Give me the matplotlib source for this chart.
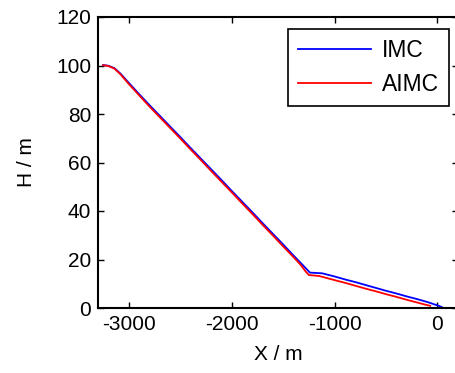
import numpy as np
import matplotlib.pyplot as plt

plt.rcParams['font.family'] = ['Liberation Sans', 'DejaVu Sans']
plt.rcParams['axes.unicode_minus'] = False

# IMC trajectory (blue)
x_imc = [-3250, -3200, -3140, -3080, -3010, -2900, -2800, -2700, -2600, -2500,
         -2400, -2300, -2200, -2100, -2000, -1900, -1800, -1700, -1600, -1500,
         -1400, -1300, -1240, -1120, -1000, -900, -800, -700, -600, -500,
         -400, -300, -200, -100, -30, 20, 50]
h_imc = [100.2, 99.9, 98.9, 96.6, 93.3, 88.2, 83.7, 79.3, 74.9, 70.5,
         66.0, 61.6, 57.2, 52.8, 48.3, 43.9, 39.5, 35.0, 30.6, 26.2,
         21.7, 17.3, 14.6, 14.3, 13.0, 11.8, 10.7, 9.5, 8.3, 7.1,
         6.0, 4.8, 3.7, 2.5, 1.5, 0.8, 0.2]

# AIMC trajectory (red)
x_aimc = [-3250, -3200, -3140, -3080, -3010, -2900, -2800, -2700, -2600, -2500,
          -2400, -2300, -2200, -2100, -2000, -1900, -1800, -1700, -1600, -1500,
          -1400, -1330, -1280, -1250, -1150, -1000, -900, -800, -700, -600,
          -500, -400, -300, -200, -120, -70]
h_aimc = [100.1, 99.8, 98.7, 96.3, 92.8, 87.7, 83.1, 78.7, 74.3, 69.9,
          65.4, 61.0, 56.5, 52.1, 47.7, 43.2, 38.8, 34.3, 29.9, 25.4,
          21.0, 17.8, 15.0, 13.6, 13.2, 11.5, 10.4, 9.2, 8.0, 6.9,
          5.7, 4.6, 3.4, 2.3, 1.4, 0.9]

fig = plt.figure(figsize=(4.55, 3.73), dpi=100)
ax = fig.add_axes([98 / 455, 65 / 373, 360 / 455, 291 / 373])

ax.plot(x_imc, h_imc, color='#0000ff', lw=1.3, label='IMC')
ax.plot(x_aimc, h_aimc, color='#ff0000', lw=1.3, label='AIMC')

ax.set_xlim(-3300, 200)
ax.set_ylim(0, 120)
ax.set_xticks([-3000, -2000, -1000, 0])
ax.set_yticks(np.arange(0, 121, 20))
ax.tick_params(direction='in', length=4, width=1, labelsize=15,
               top=True, right=True, pad=5)
for s in ax.spines.values():
    s.set_linewidth(1.5)

ax.set_xlabel('X / m', fontsize=15, labelpad=8)
ax.set_ylabel('H / m', fontsize=15, labelpad=14)

leg = ax.legend(loc='upper right', bbox_to_anchor=(449 / 455, 1 - 29 / 373),
                bbox_transform=fig.transFigure, fontsize=16.5, fancybox=False,
                framealpha=1, edgecolor='black', handlelength=3.2,
                handletextpad=0.45, borderaxespad=0, labelspacing=0.45,
                borderpad=0.45)
leg.get_frame().set_linewidth(1.2)

fig.savefig('out.png', dpi=100)
